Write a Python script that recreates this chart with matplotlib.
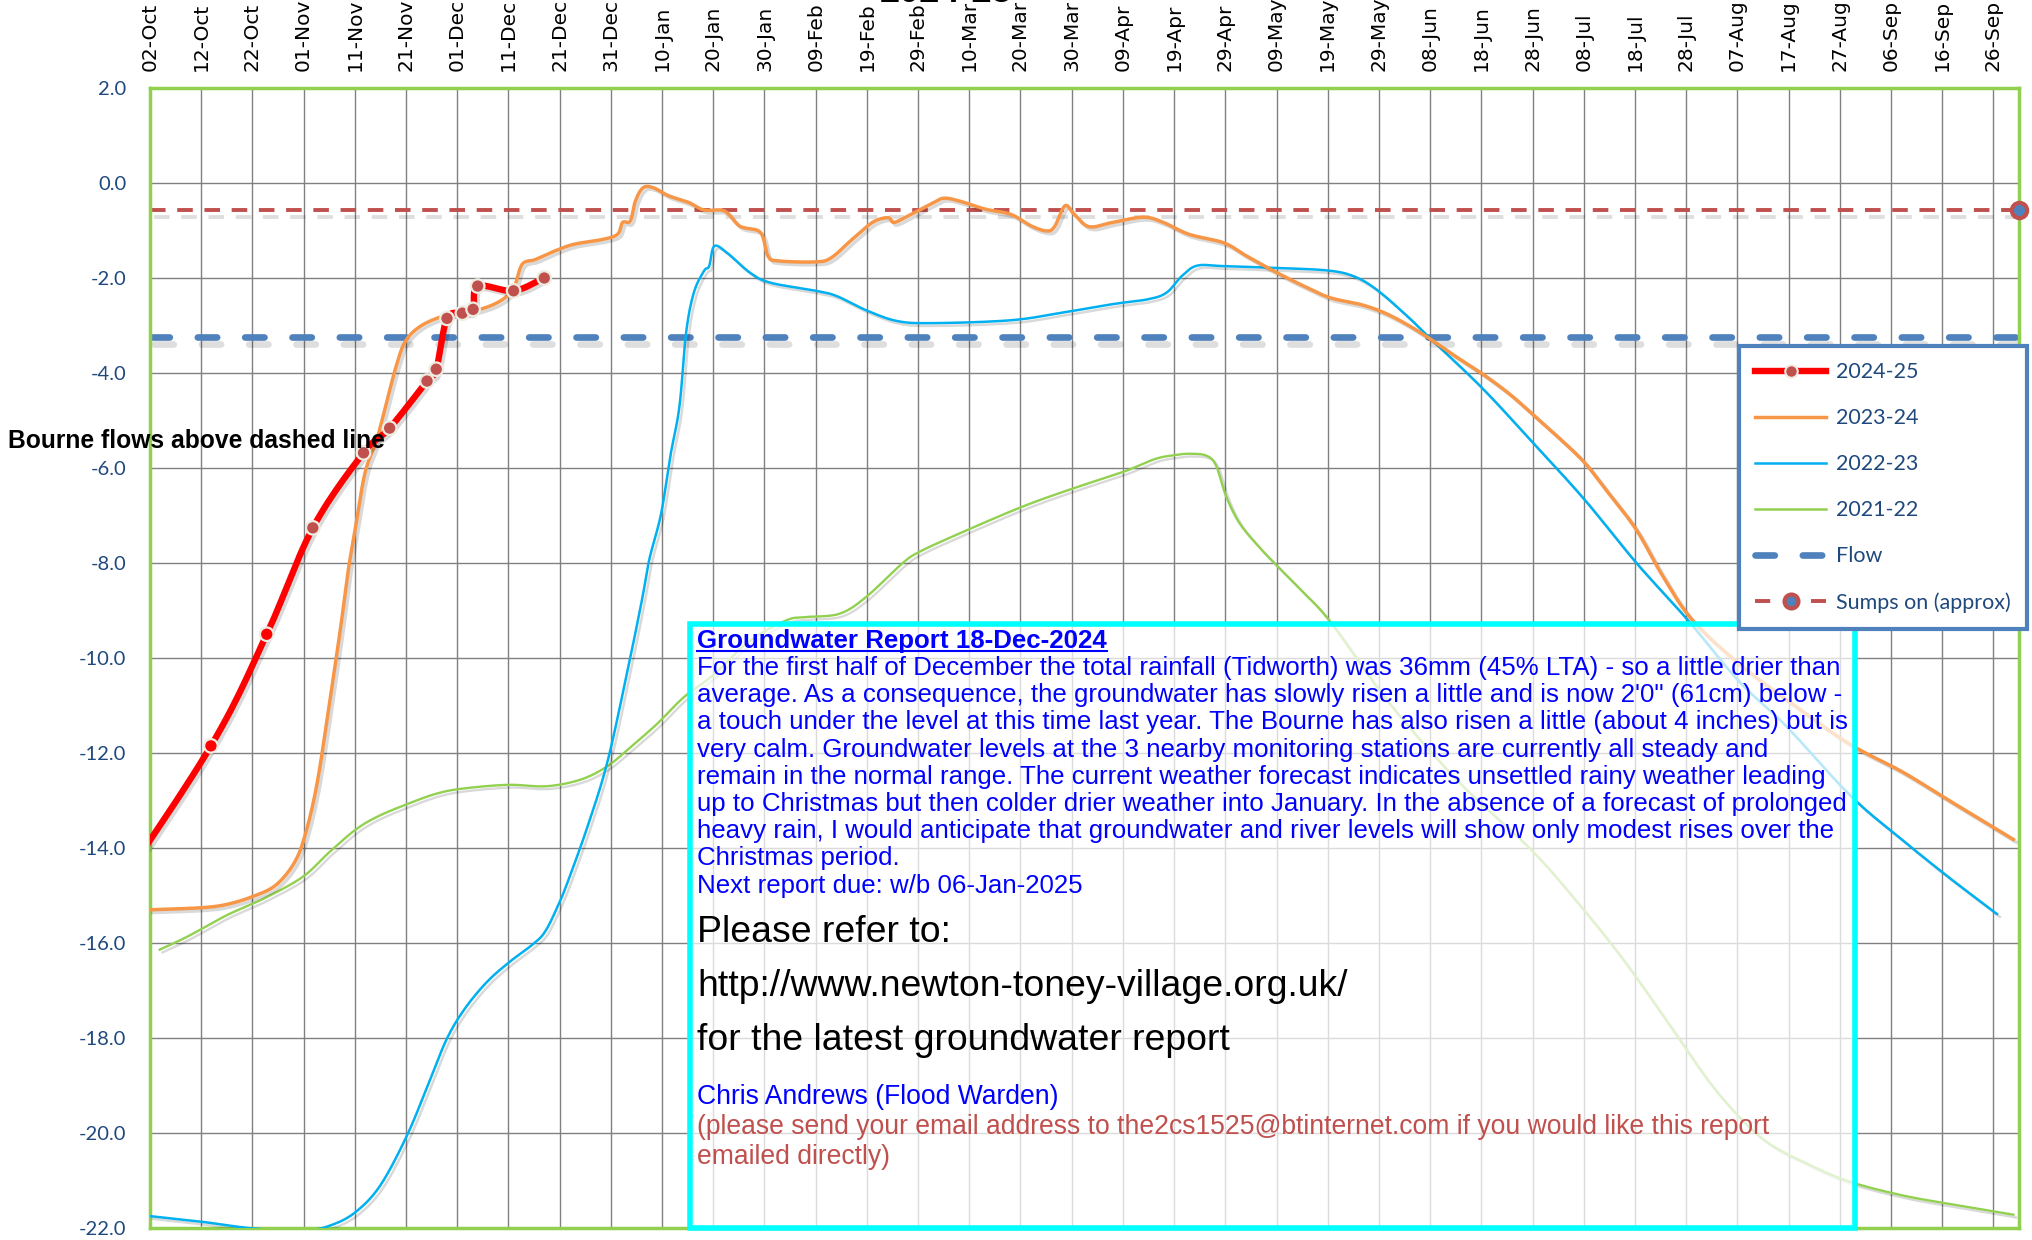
import matplotlib
matplotlib.use("Agg")
import numpy as np
import matplotlib.pyplot as plt
import matplotlib.patheffects as pe
from matplotlib.lines import Line2D
from matplotlib.patches import Rectangle

W, H = 2033, 1240

# x axis: days counted from 02-Oct, a label every 10 days
tick_days = list(range(0, 361, 10))
tick_labels = ["02-Oct", "12-Oct", "22-Oct", "01-Nov", "11-Nov", "21-Nov", "01-Dec",
               "11-Dec", "21-Dec", "31-Dec", "10-Jan", "20-Jan", "30-Jan", "09-Feb",
               "19-Feb", "29-Feb", "10-Mar", "20-Mar", "30-Mar", "09-Apr", "19-Apr",
               "29-Apr", "09-May", "19-May", "29-May", "08-Jun", "18-Jun", "28-Jun",
               "08-Jul", "18-Jul", "28-Jul", "07-Aug", "17-Aug", "27-Aug", "06-Sep",
               "16-Sep", "26-Sep"]
y_ticks = list(range(-22, 3, 2))

# 2024-25 readings
red_days = [-9, 11.9, 22.8, 31.8, 41.7, 46.8, 54.1, 55.9, 58.0, 61.0, 63.1, 64.0, 71.0, 77.0]
red_vals = [-15.3, -11.85, -9.5, -7.26, -5.68, -5.16, -4.17, -3.92, -2.85, -2.74, -2.66,
            -2.17, -2.27, -2.0]

# 2023-24
orange_days = [0, 9.7, 14.9, 20.1, 24.6, 28.3, 30.5, 32.7, 35, 37.2, 38.7, 40.2, 42, 44.3,
               46.2, 48.1, 49.9, 52.9, 57.4, 61.9, 66.4, 69.4, 71.2, 72.7, 75.3, 79.1, 82.8,
               88.3, 91.3, 92.3, 93.8, 94.8, 96.3, 98.3, 101.3, 105.2, 108.2, 112.2, 115.2,
               119.2, 120.7, 122.7, 130.1, 133.1, 137.1, 141.1, 144.1, 145.3, 148.1, 153.1,
               155.1, 158.1, 163.1, 168.1, 172.2, 175.2, 176.7, 178.7, 180.5, 183.4, 188,
               194, 197.9, 202.9, 209.7, 214.2, 220.1, 226.1, 230.6, 236.5, 241, 245.5,
               250.1, 254.4, 260.1, 265.6, 270, 275.3, 280.1, 284.2, 290.2, 295.4, 301.2,
               310.3, 319.4, 331.6, 342.1, 351.2, 363.9]
orange_vals = [-15.30, -15.26, -15.19, -15.02, -14.78, -14.29, -13.65, -12.60, -10.99, -9.38,
               -8.17, -7.21, -6.1, -5.4, -4.62, -3.85, -3.33, -3.01, -2.80, -2.73, -2.59,
               -2.41, -2.17, -1.71, -1.61, -1.43, -1.29, -1.19, -1.08, -0.83, -0.80, -0.38,
               -0.10, -0.10, -0.27, -0.41, -0.57, -0.59, -0.91, -1.04, -1.54, -1.64, -1.66,
               -1.57, -1.19, -0.83, -0.73, -0.83, -0.69, -0.41, -0.32, -0.38, -0.55, -0.66,
               -0.91, -1.01, -0.91, -0.48, -0.66, -0.92, -0.83, -0.72, -0.83, -1.08, -1.26,
               -1.54, -1.89, -2.21, -2.42, -2.56, -2.73, -2.98, -3.29, -3.61, -4.01, -4.45,
               -4.87, -5.38, -5.88, -6.44, -7.29, -8.27, -9.20, -10.12, -10.86, -11.79,
               -12.39, -12.99, -13.82]

# 2022-23
blue_days = [0, 10.2, 20.2, 30.2, 35.4, 40.2, 45, 50.2, 54.5, 58, 61.5, 65.8, 70.2, 74.5,
             77.1, 79.7, 81.8, 85.6, 89.3, 93, 96, 97.5, 99.8, 101.6, 103.4, 104.7, 106.2,
             108.2, 109.2, 110.2, 112.7, 117.2, 121.2, 130.1, 134.1, 140.1, 146.1, 153.1,
             168.1, 178.1, 188, 194.8, 198.5, 201.5, 204.5, 209.7, 220.1, 229.8, 235, 239.5,
             245.5, 250.1, 260.1, 270, 280.1, 290.2, 300.3, 310.3, 319.4, 332.1, 342.1,
             351.2, 360.7]
blue_vals = [-21.75, -21.87, -22.01, -22.05, -21.94, -21.66, -21.10, -20.05, -18.93, -18.01,
             -17.38, -16.82, -16.40, -16.05, -15.77, -15.21, -14.65, -13.5, -12.2, -10.4,
             -8.82, -7.93, -6.97, -5.76, -4.7, -3.15, -2.31, -1.85, -1.75, -1.33, -1.47,
             -1.89, -2.10, -2.27, -2.38, -2.69, -2.91, -2.95, -2.89, -2.73, -2.55, -2.45,
             -2.31, -1.96, -1.74, -1.75, -1.79, -1.84, -1.96, -2.24, -2.80, -3.28, -4.31,
             -5.46, -6.66, -7.99, -9.20, -10.49, -11.42, -12.90, -13.82, -14.61, -15.39]

# 2021-22
green_days = [1.9, 7.4, 14.9, 22.3, 29.8, 35, 40.2, 44.6, 49.9, 55.8, 61, 69.9, 77.4, 84.1,
              89.3, 93.8, 99, 104.2, 110.1, 117, 124.2, 128, 134.6, 139.8, 146.8, 150, 157.2,
              170, 180, 190.1, 196.3, 200.1, 203, 206.3, 208.2, 210.1, 212.7, 216.4, 220.1,
              224.6, 230.6, 242.1, 255.7, 269.4, 278.5, 287.5, 296.6, 305.7, 314.8, 323.9,
              332.1, 342.1, 351.2, 363.9]
green_vals = [-16.14, -15.86, -15.42, -15.06, -14.61, -14.09, -13.61, -13.33, -13.09, -12.86,
              -12.75, -12.67, -12.70, -12.56, -12.28, -11.88, -11.39, -10.83, -10.35, -9.65,
              -9.21, -9.14, -9.07, -8.72, -8.02, -7.78, -7.42, -6.83, -6.44, -6.08, -5.81,
              -5.73, -5.70, -5.74, -5.95, -6.58, -7.15, -7.64, -8.06, -8.55, -9.25, -10.96,
              -12.62, -14.0, -15.11, -16.32, -17.70, -19.09, -20.11, -20.66, -21.03, -21.31,
              -21.49, -21.72]

flow_level = -3.25
sumps_level = -0.57
sumps_day = 365

report_title = "Groundwater Report 18-Dec-2024"
report_lines = [
    "For the first half of December the total rainfall (Tidworth) was 36mm (45% LTA) - so a little drier than",
    "average. As a consequence, the groundwater has slowly risen a little and is now 2'0\" (61cm) below -",
    "a touch under the level at this time last year. The Bourne has also risen a little (about 4 inches) but is",
    "very calm. Groundwater levels at the 3 nearby monitoring stations are currently all steady and",
    "remain in the normal range. The current weather forecast indicates unsettled rainy weather leading",
    "up to Christmas but then colder drier weather into January. In the absence of a forecast of prolonged",
    "heavy rain, I would anticipate that groundwater and river levels will show only modest rises over the",
    "Christmas period.",
    "Next report due: w/b 06-Jan-2025",
]
refer_lines = ["Please refer to:", "http://www.newton-toney-village.org.uk/",
               "for the latest groundwater report"]
warden = "Chris Andrews (Flood Warden)"
email_lines = ["(please send your email address to the2cs1525@btinternet.com if you would like this report",
               "emailed directly)"]


def smooth(x, y, n=14):
    # Catmull-Rom through the points, the way Excel draws a smoothed line
    x = np.asarray(x, float)
    y = np.asarray(y, float)
    px = np.concatenate([[2 * x[0] - x[1]], x, [2 * x[-1] - x[-2]]])
    py = np.concatenate([[2 * y[0] - y[1]], y, [2 * y[-1] - y[-2]]])
    t = np.linspace(0, 1, n, endpoint=False)[:, None]
    def curve(p):
        p0, p1, p2, p3 = p[:-3], p[1:-2], p[2:-1], p[3:]
        c = 0.5 * (2 * p1 + (p2 - p0) * t + (2 * p0 - 5 * p1 + 4 * p2 - p3) * t ** 2
                   + (3 * p1 - p0 - 3 * p2 + p3) * t ** 3)
        return np.append(c.T.ravel(), p[-2])
    return curve(px), curve(py)


fig = plt.figure(figsize=(W / 100, H / 100), dpi=100)
renderer = fig.canvas.get_renderer()
ax = fig.add_axes([150 / W, 1 - 1228 / H, 1869 / W, 1140 / H])
ax.set_xlim(0, 365)
ax.set_ylim(-22, 2)

ax.xaxis.tick_top()
ax.set_xticks(tick_days)
ax.set_xticklabels(tick_labels, rotation=90, fontsize=14.5, family="DejaVu Sans")
ax.tick_params(axis="x", length=0, pad=12)
ax.set_yticks(y_ticks)
ax.set_yticklabels([f"{v:.1f}" for v in y_ticks], fontsize=14.5, family="Lato",
                   color="#1F497D")
ax.tick_params(axis="y", length=0, pad=17)
ax.grid(True, color="#808080", lw=1.0)
ax.set_axisbelow(True)
for s in ax.spines.values():
    s.set_color("#92D050")
    s.set_linewidth(2.5)

shadow = [pe.SimpleLineShadow(offset=(2, -2), shadow_color="k", alpha=0.15), pe.Normal()]
dash_shadow = [pe.SimpleLineShadow(offset=(3, -5), shadow_color="k", alpha=0.13), pe.Normal()]

ax.axhline(sumps_level, color="#C0504D", lw=2.8, ls=(0, (4.0, 3.0)), zorder=2,
           path_effects=dash_shadow)
ax.axhline(flow_level, color="#4F81BD", lw=4.8, ls=(0, (2.9, 4.2)),
           dash_capstyle="round", zorder=2, path_effects=dash_shadow)
ax.plot([sumps_day], [sumps_level], "o", ms=11, mfc="#4F81BD", mec="#C0504D", mew=3,
        clip_on=False, zorder=6)

ax.plot(*smooth(green_days, green_vals), color="#92D050", lw=1.7, zorder=3, path_effects=shadow)
ax.plot(*smooth(blue_days, blue_vals), color="#00B0F0", lw=1.8, zorder=3, path_effects=shadow)
ax.plot(*smooth(orange_days, orange_vals), color="#F79646", lw=2.5, zorder=3, path_effects=shadow)
ax.plot(*smooth(red_days, red_vals), color="#FF0000", lw=4.6, zorder=4, path_effects=shadow)
face = ["#FF0000" if i in (1, 2) else "#C0504D" for i in range(len(red_days))]
ax.scatter(red_days, red_vals, s=95, c=face, edgecolors="#EEECE1", linewidths=1.6, zorder=5)

# report box over the lower middle of the plot
box = Rectangle((540 / 1869, 0), 1165 / 1869, 604 / 1140, transform=ax.transAxes,
                facecolor=(1, 1, 1, 0.72), edgecolor="#00FFFF", lw=4, zorder=7, clip_on=False)
ax.add_patch(box)

handles = [
    Line2D([], [], color="#FF0000", lw=4.6, marker="o", ms=9, mfc="#C0504D", mec="#EEECE1", mew=1.5),
    Line2D([], [], color="#F79646", lw=2.5),
    Line2D([], [], color="#00B0F0", lw=1.8),
    Line2D([], [], color="#92D050", lw=1.8),
    Line2D([], [], color="#4F81BD", lw=4.8, ls=(0, (2.9, 4.2)), dash_capstyle="round"),
    Line2D([], [], color="#C0504D", lw=2.8, ls=(0, (3.9, 10.5)), marker="o", ms=10,
           mfc="#4F81BD", mec="#C0504D", mew=3),
]
labels = ["2024-25", "2023-24", "2022-23", "2021-22", "Flow", "Sumps on (approx)"]
leg = ax.legend(handles, labels, loc="upper left", bbox_to_anchor=(1739 / W, 1 - 346 / H),
                bbox_transform=fig.transFigure, borderaxespad=0, handlelength=3.3,
                handletextpad=0.45, labelspacing=1.21, borderpad=0.75, fancybox=False,
                framealpha=1, prop={"family": "Lato", "size": 15.5}, labelcolor="#1F497D")
leg.get_frame().set_edgecolor("#4F81BD")
leg.get_frame().set_linewidth(3)
leg.set_zorder(10)


def fit_size(text, width_px, **kw):
    t = fig.text(0, 0, text, fontsize=10, **kw)
    w = t.get_window_extent(renderer).width
    t.remove()
    return 10 * width_px / w


def ftext(px, py, s, **kw):
    return fig.text(px / W, 1 - py / H, s, va="baseline", ha="left", zorder=12, **kw)


fam = "Liberation Sans"
fs_body = fit_size(report_lines[0], 1151, family=fam)
fs_big = fit_size(refer_lines[1], 652, family=fam)
fs_mail = fit_size(email_lines[0], 1077, family=fam)

x0 = 697
t = ftext(x0, 648, report_title, family=fam, fontsize=fs_body, fontweight="bold", color="#0000FF")
bb = t.get_window_extent(renderer)
fig.add_artist(Line2D([x0 / W, (x0 + bb.width) / W], [1 - 651 / H, 1 - 651 / H],
                      color="#0000FF", lw=1.5, zorder=12))
for i, line in enumerate(report_lines):
    ftext(x0, 675 + i * 27.2, line, family=fam, fontsize=fs_body, color="#0000FF")
for i, line in enumerate(refer_lines):
    ftext(x0, 942 + i * 54, line, family=fam, fontsize=fs_big, color="black")
ftext(x0, 1104, warden, family=fam, fontsize=fs_mail, color="#0000FF")
for i, line in enumerate(email_lines):
    ftext(x0, 1134 + i * 30, line, family=fam, fontsize=fs_mail, color="#C0504D")

fig.text(8 / W, 1 - 448 / H, "Bourne flows above dashed line", family=fam,
         fontsize=fit_size("Bourne flows above dashed line", 376, family=fam, fontweight="bold"),
         fontweight="bold", va="baseline", ha="left", zorder=12)
fig.text(946 / W, 1 - 10 / H, "2024-25", family=fam, fontsize=26, fontweight="bold",
         ha="center", va="bottom")

fig.savefig("out.png", dpi=100)
